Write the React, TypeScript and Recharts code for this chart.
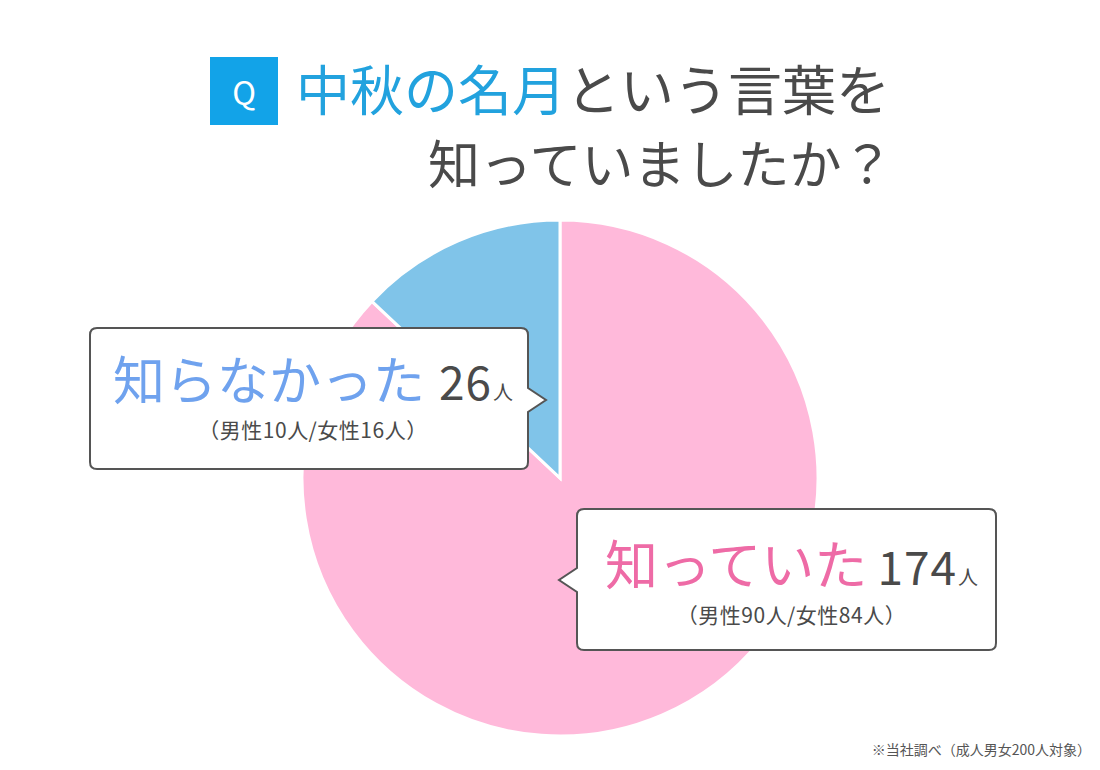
import { Cell, Pie, PieChart } from "recharts";

const answers = ["知っていた", "知らなかった"];
const counts = [174, 26];
const maleCounts = [90, 10];
const femaleCounts = [84, 16];
const sliceColors = ["#FFB9DA", "#80C4E9"];
const labelColors = ["#EE6BA6", "#6FA2EE"];

const pieData = answers.map((name, i) => ({ name, value: counts[i] }));

const FONT = '"Noto Sans CJK JP", "Noto Sans", sans-serif';
const DARK = "#4A4A4A";

function bubblePath(
  x: number,
  y: number,
  w: number,
  h: number,
  r: number,
  side: "left" | "right",
  py: number,
  tip: number,
) {
  const half = 12;
  if (side === "right") {
    return `M${x + r},${y} H${x + w - r} Q${x + w},${y} ${x + w},${y + r} V${py - half} L${x + w + tip},${py} L${x + w},${py + half} V${y + h - r} Q${x + w},${y + h} ${x + w - r},${y + h} H${x + r} Q${x},${y + h} ${x},${y + h - r} V${y + r} Q${x},${y} ${x + r},${y} Z`;
  }
  return `M${x + r},${y} H${x + w - r} Q${x + w},${y} ${x + w},${y + r} V${y + h - r} Q${x + w},${y + h} ${x + w - r},${y + h} H${x + r} Q${x},${y + h} ${x},${y + h - r} V${py + half} L${x - tip},${py} L${x},${py - half} V${y + r} Q${x},${y} ${x + r},${y} Z`;
}

function Callout({
  index,
  left,
  top,
  width,
  mainSize,
  gap,
}: {
  index: number;
  left: number;
  top: number;
  width: number;
  mainSize: number;
  gap: number;
}) {
  return (
    <div style={{ position: "absolute", left, top, width, fontFamily: FONT }}>
      <div
        style={{
          display: "flex",
          alignItems: "baseline",
          justifyContent: "center",
          lineHeight: 1,
          whiteSpace: "nowrap",
        }}
      >
        <span style={{ fontSize: mainSize, color: labelColors[index] }}>
          {answers[index]}
        </span>
        <span
          style={{
            fontSize: 46,
            color: DARK,
            marginLeft: gap,
            letterSpacing: 1,
          }}
        >
          {counts[index]}
        </span>
        <span style={{ fontSize: 20, color: DARK, marginLeft: 1 }}>人</span>
      </div>
      <div
        style={{
          marginTop: 10,
          textAlign: "center",
          fontSize: 21,
          color: DARK,
          whiteSpace: "nowrap",
          letterSpacing: 0.5,
        }}
      >
        （男性{maleCounts[index]}人/女性{femaleCounts[index]}人）
      </div>
    </div>
  );
}

export default function App() {
  return (
    <div
      style={{
        position: "absolute",
        left: 0,
        top: 0,
        width: 1100,
        height: 770,
        background: "#FFFFFF",
        overflow: "hidden",
      }}
    >
      <PieChart
        width={1100}
        height={770}
        margin={{ top: 0, right: 0, bottom: 0, left: 0 }}
      >
        <Pie
          data={pieData}
          dataKey="value"
          nameKey="name"
          cx={560}
          cy={478}
          outerRadius={258}
          startAngle={90}
          endAngle={-270}
          stroke="#FFFFFF"
          strokeWidth={3}
          isAnimationActive={false}
        >
          {pieData.map((d, i) => (
            <Cell key={d.name} fill={sliceColors[i]} />
          ))}
        </Pie>
      </PieChart>

      {/* title */}
      <div
        style={{
          position: "absolute",
          left: 210,
          top: 57,
          width: 68,
          height: 68,
          background: "#12A3E8",
          color: "#FFFFFF",
          fontFamily: FONT,
          fontSize: 32,
          lineHeight: "68px",
          textAlign: "center",
        }}
      >
        Q
      </div>
      <div
        style={{
          position: "absolute",
          left: 296,
          top: 61,
          fontFamily: FONT,
          fontSize: 54,
          lineHeight: 1,
          whiteSpace: "nowrap",
          color: DARK,
        }}
      >
        <span style={{ color: "#22A2DE" }}>中秋の名月</span>という言葉を
      </div>
      <div
        style={{
          position: "absolute",
          left: 428,
          top: 136,
          fontFamily: FONT,
          fontSize: 52,
          lineHeight: 1,
          whiteSpace: "nowrap",
          color: DARK,
        }}
      >
        知っていましたか？
      </div>

      {/* callouts */}
      <svg
        width={1100}
        height={770}
        style={{ position: "absolute", left: 0, top: 0 }}
      >
        <path
          d={bubblePath(90, 328, 438, 141, 7, "right", 400, 18)}
          fill="#FFFFFF"
          stroke="#555555"
          strokeWidth={2}
        />
        <path
          d={bubblePath(577, 509, 419, 141, 7, "left", 580, 18)}
          fill="#FFFFFF"
          stroke="#555555"
          strokeWidth={2}
        />
      </svg>
      <Callout index={1} left={94} top={352} width={438} mainSize={52} gap={14} />
      <Callout index={0} left={582} top={536} width={419} mainSize={53} gap={10} />

      <div
        style={{
          position: "absolute",
          right: 9,
          top: 739,
          fontFamily: FONT,
          fontSize: 14,
          color: "#555555",
          whiteSpace: "nowrap",
        }}
      >
        ※当社調べ（成人男女200人対象）
      </div>
    </div>
  );
}
